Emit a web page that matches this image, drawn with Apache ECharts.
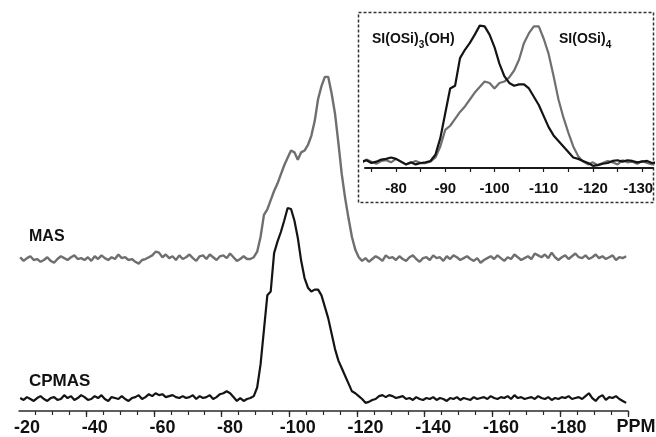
<!DOCTYPE html>
<html lang="en">
<head>
    <meta charset="UTF-8">
    <title>29Si NMR MAS / CPMAS</title>
    <script type="text/javascript" src="https://cdn.jsdelivr.net/npm/echarts@6.0.0/dist/echarts.min.js"></script>
    <style>
        html, body { margin: 0; padding: 0; background: #fff; }
        #chart { width: 656px; height: 437px; }
    </style>
</head>
<body>
<div id="chart"></div>

<script type="text/javascript">
    // spectra sampled every 1 ppm, from -18 ppm down to -197 ppm
    var ppmStart = -18;
    var ppmStep = -1;

    // MAS, normalised to peak = 100
    var masY = [
        1, -1, 0.5, 1.5, -0.5, 0, -1.5, -0.5, 1, -1,
        -2, 0, 1.5, 0.5, -0.5, 1, 2, 0, 0.5, -0.5,
        1, -1, 1.5, 0, 2, 0.5, -0.5, 1, 0, 2.5,
        0.5, 1, -0.5, 0, -1.5, -2.5, -0.5, 0, 1, 2,
        4, 3.5, 1, 2.5, 0.5, 1.5, -0.5, 2, 0, 1,
        2.5, 0.5, -1, 1.5, 2, 0, 2.5, 1, -0.5, 1.5,
        2, 0.5, 3, 1, -1, 0, 1.5, 0, 0, 1,
        4, 12, 24, 27, 32, 37, 41, 46, 51, 55,
        59, 58, 54, 58, 59, 62, 67, 75, 87, 94,
        99, 99, 90, 79, 63, 46, 33, 22, 12, 5,
        1, -1, 0.5, -1.5, 0, 1.5, 0.5, -1, 2, 0.5,
        1, -0.5, 1.5, 0, -1, 1, 2, 0, -1.5, 0.5,
        1, -0.5, 2, 0.5, 1, -1, 1.5, 0, 2, 1,
        -0.5, 0.5, 1.5, 0, -1, 0.5, -2, -0.5, 0.5, 1.5,
        0, 2, 0.5, -1, 1, 0, 2.5, 1, -0.5, 0.5,
        1.5, 0, 3, 2, 1, 2.5, 0.5, 3.5, 1, -0.5,
        1, 2, 0, 1.5, 3, 1, 0.5, 2, 0, 1,
        2.5, 0.5, 1.5, 0, 1, 2, -0.5, 1, 0.5, 1.5
    ];

    // CPMAS, normalised to peak = 100 (black trace)
    var cpY = [
        0.5, -0.5, 1, 0, -1, 0.5, 1.5, 0, -1, 0.5,
        1, -0.5, 0, 2, 0.5, 1.5, -0.5, 0.5, 2, 1,
        -0.5, 0, 1.5, 0.5, 2, 0, -1, 1, 0.5, 0,
        1.5, 0, -1, 0.5, 1, 2, 0, 1, 2.5, 1.5,
        3, 2, 2.5, 1, 1.5, 2, 1, 0.5, 1.5, 0.5,
        1, 2, 0, 1.5, 0.5, 1, 2, 0, 1, 2.5,
        3, 4, 3, 1, -1, 0.5, -1, 0, 0.5, 1.5,
        6, 18, 36, 54, 56, 76, 82, 87, 93, 99.5,
        99, 93, 84, 72, 63, 58, 56, 57, 57, 54,
        48, 42, 34, 26, 20, 16, 12, 8, 4, 3,
        1.5, 0, -2, -1.5, -0.5, 0, 1.5, 2, 1, 2,
        1.5, 0.5, 1, 1.5, 0, 0.5, -0.5, 1, 0, -0.5,
        0.5, 0, 1, -0.5, 0.5, 0, -1, 0.5, 0, 1,
        -0.5, 0.5, 0, -0.5, 1, 0, 0.5, 1, 0, 1.5,
        0.5, 0, 1, 0.5, 1.5, 0, 2, 0.5, 1, 0,
        0.5, 1, 0, 1.5, 0.5, 0, 1, -0.5, 0.5, 0,
        1, 0.5, 1.5, 0, 0.5, 1, 0, 1.5, 3, 0.5,
        -1, 1, 2, -0.5, 1, 0.5, 1.5, 0, -1, -2
    ];

    // tick labels
    var mainLabels = [-20, -40, -60, -80, -100, -120, -140, -160, -180];
    var mainMajorTicks = [-17.5, -37.5, -57.5, -77.5, -97.5, -117.5, -137.5, -157.5, -177.5, -197.5];
    var insetLabels = [-80, -90, -100, -110, -120, -130];

    function pairs(vals) {
        var out = [];
        for (var i = 0; i < vals.length; i++) {
            out.push([ppmStart + ppmStep * i, vals[i]]);
        }
        return out;
    }
    function stepTicks(from, to, step) {
        var out = [];
        for (var v = from; v >= to; v -= step) out.push(v);
        return out;
    }

    var FONT = '"Liberation Sans", Arial, Helvetica, sans-serif';
    var BLACK = '#141414';
    var GREY = '#6f6f6f';

    var myChart = echarts.init(document.getElementById('chart'), null, {renderer: 'canvas'});
    myChart.setOption({
        animation: false,
        backgroundColor: '#fff',
        grid: [
            // main spectra
            {left: 19, right: 28, top: 60, bottom: 26, containLabel: false, outerBoundsMode: 'none'},
            // inset
            {left: 365, right: 3, top: 15, bottom: 269, containLabel: false, outerBoundsMode: 'none'}
        ],
        xAxis: [
            {   // main axis, labels + long ticks
                gridIndex: 0, type: 'value', inverse: true,
                min: -197.55, max: -17.64,
                axisLine: {show: true, onZero: false, lineStyle: {color: '#2a2a2a', width: 1.5}},
                axisTick: {show: true, customValues: mainMajorTicks, length: 6,
                    lineStyle: {color: '#2a2a2a', width: 1.3}},
                axisLabel: {customValues: mainLabels, margin: 8, color: '#111',
                    fontFamily: FONT, fontWeight: 'bold', fontSize: 18},
                splitLine: {show: false}
            },
            {   // main axis, short ticks every 5 ppm
                gridIndex: 0, type: 'value', inverse: true, position: 'bottom', offset: 0,
                min: -197.55, max: -17.64,
                axisLine: {show: false, onZero: false},
                axisTick: {show: true, customValues: stepTicks(-22.5, -197.5, 5), length: 4,
                    lineStyle: {color: '#2a2a2a', width: 1.2}},
                axisLabel: {show: false},
                splitLine: {show: false}
            },
            {   // inset axis
                gridIndex: 1, type: 'value', inverse: true,
                min: -132.2, max: -73.7,
                axisLine: {show: true, onZero: false, lineStyle: {color: '#1a1a1a', width: 2}},
                axisTick: {show: true, customValues: stepTicks(-75, -130, 5), length: 4,
                    lineStyle: {color: '#1a1a1a', width: 1.2}},
                axisLabel: {
                    customValues: insetLabels, margin: 13, color: '#111',
                    fontFamily: FONT, fontWeight: 'bold', fontSize: 15,
                    // last label sits at the page edge, nudge it left a bit
                    formatter: function (v) { return v === -130 ? '{e|-130}' : String(v); },
                    rich: {e: {fontFamily: FONT, fontWeight: 'bold', fontSize: 15, color: '#111', padding: [0, 8, 0, 0]}}
                },
                splitLine: {show: false}
            }
        ],
        yAxis: [
            {gridIndex: 0, type: 'value', show: false, min: -6.25, max: 176.6},   // CPMAS
            {gridIndex: 0, type: 'value', show: false, min: -82.6, max: 108.2},   // MAS (offset up)
            {gridIndex: 1, type: 'value', show: false, min: -3.6, max: 107.2}     // inset
        ],
        series: [
            {
                name: 'CPMAS', type: 'line', xAxisIndex: 0, yAxisIndex: 0,
                data: pairs(cpY), symbol: 'none', silent: true,
                lineStyle: {color: BLACK, width: 2.2}
            },
            {
                name: 'MAS', type: 'line', xAxisIndex: 0, yAxisIndex: 1,
                data: pairs(masY), symbol: 'none', silent: true,
                lineStyle: {color: GREY, width: 2.4}
            },
            {
                name: 'MAS inset', type: 'line', xAxisIndex: 2, yAxisIndex: 2,
                data: pairs(masY), symbol: 'none', silent: true, clip: true,
                lineStyle: {color: GREY, width: 2.2}
            },
            {
                name: 'CPMAS inset', type: 'line', xAxisIndex: 2, yAxisIndex: 2,
                data: pairs(cpY), symbol: 'none', silent: true, clip: true,
                lineStyle: {color: BLACK, width: 2.2}
            }
        ],
        graphic: [
            {   // dashed frame of the inset
                type: 'rect', silent: true,
                shape: {x: 358.5, y: 12.5, width: 295, height: 190},
                style: {fill: 'none', stroke: '#333', lineWidth: 1.5, lineDash: [3, 2]}
            },
            {type: 'text', x: 29, y: 237, silent: true,
                style: {text: 'MAS', font: 'bold 16px ' + FONT, fill: '#111', verticalAlign: 'middle'}},
            {type: 'text', x: 29, y: 381, silent: true,
                style: {text: 'CPMAS', font: 'bold 17px ' + FONT, fill: '#111', verticalAlign: 'middle'}},
            {type: 'text', x: 636, y: 427, silent: true,
                style: {text: 'PPM', font: 'bold 18px ' + FONT, fill: '#111', align: 'center', verticalAlign: 'middle'}},
            {type: 'text', x: 372, y: 41, silent: true,
                style: {
                    text: '{a|SI(OSi)}{s|3}{a|(OH)}',
                    verticalAlign: 'middle',
                    rich: {
                        a: {font: 'bold 14px ' + FONT, fill: '#111', verticalAlign: 'bottom', padding: [0, 0, 4, 0]},
                        s: {font: 'bold 10px ' + FONT, fill: '#111', verticalAlign: 'bottom'}
                    }
                }},
            {type: 'text', x: 559, y: 41, silent: true,
                style: {
                    text: '{a|SI(OSi)}{s|4}',
                    verticalAlign: 'middle',
                    rich: {
                        a: {font: 'bold 14px ' + FONT, fill: '#111', verticalAlign: 'bottom', padding: [0, 0, 4, 0]},
                        s: {font: 'bold 10px ' + FONT, fill: '#111', verticalAlign: 'bottom'}
                    }
                }}
        ]
    });
</script>

</body>
</html>
